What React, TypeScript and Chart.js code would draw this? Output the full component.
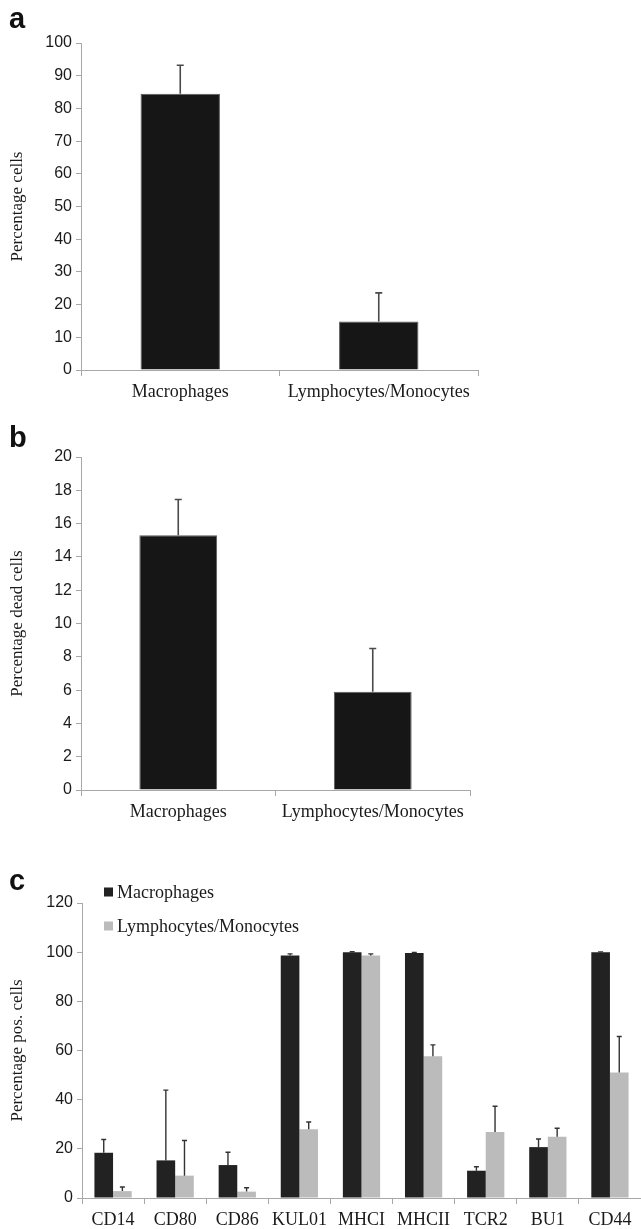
import React, { useEffect, useRef } from "react";
import { Chart, registerables } from "chart.js";

Chart.register(...registerables);

// ---------- data ----------
const cellTypes = ["Macrophages", "Lymphocytes/Monocytes"];
const aValues = [84.5, 14.8];
const aErrTop = [93.2, 23.6];
const bValues = [15.3, 5.9];
const bErrTop = [17.45, 8.5];

const markers = ["CD14", "CD80", "CD86", "KUL01", "MHCI", "MHCII", "TCR2", "BU1", "CD44"];
const macValues = [18.4, 15.3, 13.4, 98.6, 100, 99.7, 11.1, 20.7, 100];
const macErrTop = [23.8, 43.9, 18.6, 99.3, 100.2, 99.9, 12.7, 24.0, 100.1];
const lymValues = [2.8, 9.1, 2.6, 28.0, 98.6, 57.7, 26.8, 24.9, 51.1];
const lymErrTop = [4.5, 23.4, 4.2, 30.9, 99.3, 62.3, 37.3, 28.4, 65.7];

const seriesNames = ["Macrophages", "Lymphocytes/Monocytes"];

// ---------- styling ----------
const SANS = '"Liberation Sans", Arial, sans-serif';
const SERIF = '"Liberation Serif", "Times New Roman", serif';
const TEXT = "#1a1a1a";
const AXIS = "#a8a8a8";

const errorBarPlugin = {
  id: "errorBars",
  afterDatasetsDraw(chart: any) {
    const ctx = chart.ctx;
    const yScale = chart.scales.y;
    chart.data.datasets.forEach((ds: any, di: number) => {
      const tops = ds.errorTop;
      if (!tops) return;
      const meta = chart.getDatasetMeta(di);
      ctx.save();
      ctx.strokeStyle = ds.errorColor || "#444";
      ctx.lineWidth = ds.errorWidth || 1.5;
      meta.data.forEach((bar: any, i: number) => {
        const x = bar.x;
        const yb = bar.y;
        const yt = yScale.getPixelForValue(tops[i]);
        const cap = ds.errorCap || 3;
        ctx.beginPath();
        ctx.moveTo(x, yb);
        ctx.lineTo(x, yt);
        ctx.moveTo(x - cap, yt);
        ctx.lineTo(x + cap, yt);
        ctx.stroke();
      });
      ctx.restore();
    });
  },
};

const insetLegendPlugin = {
  id: "insetLegend",
  afterDraw(chart: any) {
    const { ctx, chartArea } = chart;
    const rowOffsets = [-11, 23];
    ctx.save();
    ctx.font = `18px ${SERIF}`;
    ctx.textBaseline = "middle";
    ctx.textAlign = "left";
    chart.data.datasets.forEach((ds: any, i: number) => {
      const x = chartArea.left + 22;
      const yc = chartArea.top + rowOffsets[i];
      ctx.fillStyle = ds.backgroundColor;
      ctx.fillRect(x, yc - 4.5, 9, 9);
      ctx.fillStyle = TEXT;
      ctx.fillText(ds.label, x + 13, yc + 1);
    });
    ctx.restore();
  },
};

function yAxis(max: number, step: number, title: string, width: number) {
  return {
    min: 0,
    max,
    ticks: {
      stepSize: step,
      color: TEXT,
      font: { family: SANS, size: 16 },
      padding: 4,
    },
    grid: { drawOnChartArea: false, drawTicks: true, tickLength: 5, color: AXIS },
    border: { color: AXIS, width: 1 },
    title: {
      display: true,
      text: title,
      color: TEXT,
      font: { family: SERIF, size: 17 },
      padding: { top: 7, bottom: 0 },
    },
    afterFit(scale: any) {
      scale.width = width;
    },
  };
}

function xAxis(height: number) {
  return {
    ticks: {
      color: TEXT,
      font: { family: SERIF, size: 18 },
      padding: 5,
      autoSkip: false,
      maxRotation: 0,
      minRotation: 0,
    },
    grid: { drawOnChartArea: false, drawTicks: true, tickLength: 6, color: AXIS, offset: true },
    border: { color: AXIS, width: 1 },
    afterFit(scale: any) {
      scale.height = height;
    },
  };
}

function singleConfig(values: number[], errTop: number[], max: number, step: number, title: string, padTop: number, padRight: number, xHeight: number) {
  return {
    type: "bar",
    data: {
      labels: cellTypes,
      datasets: [
        {
          label: "cells",
          data: values,
          backgroundColor: "#161616",
          borderColor: "#5a5a5a",
          borderWidth: 1,
          barPercentage: 0.4,
          categoryPercentage: 1,
          errorTop: errTop,
          errorCap: 3.5,
          errorColor: "#4a4a4a",
          errorWidth: 1.6,
        },
      ],
    },
    options: {
      responsive: false,
      maintainAspectRatio: false,
      animation: false,
      layout: { padding: { top: padTop, right: padRight, left: 0, bottom: 0 } },
      plugins: { legend: { display: false }, tooltip: { enabled: false } },
      scales: { x: xAxis(xHeight), y: yAxis(max, step, title, 81) },
    },
    plugins: [errorBarPlugin],
  };
}

function markerConfig() {
  return {
    type: "bar",
    data: {
      labels: markers,
      datasets: [
        {
          label: seriesNames[0],
          data: macValues,
          backgroundColor: "#222222",
          borderWidth: 0,
          barPercentage: 1,
          categoryPercentage: 0.6,
          errorTop: macErrTop,
          errorCap: 2.5,
          errorColor: "#333",
          errorWidth: 1.4,
        },
        {
          label: seriesNames[1],
          data: lymValues,
          backgroundColor: "#bbbbbb",
          borderWidth: 0,
          barPercentage: 1,
          categoryPercentage: 0.6,
          errorTop: lymErrTop,
          errorCap: 2.5,
          errorColor: "#333",
          errorWidth: 1.4,
        },
      ],
    },
    options: {
      responsive: false,
      maintainAspectRatio: false,
      animation: false,
      layout: { padding: { top: 63, right: 0, left: 0, bottom: 0 } },
      plugins: { legend: { display: false }, tooltip: { enabled: false } },
      scales: { x: xAxis(31), y: yAxis(120, 20, "Percentage pos. cells", 82) },
    },
    plugins: [errorBarPlugin, insetLegendPlugin],
  };
}

function ChartCanvas({ top, height, build }: { top: number; height: number; build: () => any }) {
  const ref = useRef<HTMLCanvasElement | null>(null);
  useEffect(() => {
    if (!ref.current) return;
    const chart = new Chart(ref.current, build());
    return () => chart.destroy();
  }, []);
  return (
    <canvas
      ref={ref}
      width={641}
      height={height}
      style={{ position: "absolute", left: 0, top, width: 641, height, display: "block" }}
    />
  );
}

function PanelLabel({ text, top }: { text: string; top: number }) {
  return (
    <div
      style={{
        position: "absolute",
        left: 9,
        top,
        fontFamily: SANS,
        fontWeight: "bold",
        fontSize: 29,
        lineHeight: "29px",
        color: "#111",
      }}
    >
      {text}
    </div>
  );
}

export default function App() {
  return (
    <div style={{ position: "absolute", left: 0, top: 0, width: 641, height: 1229, background: "#fff", overflow: "hidden" }}>
      <ChartCanvas top={0} height={415} build={() => singleConfig(aValues, aErrTop, 100, 10, "Percentage cells", 43, 163, 45)} />
      <ChartCanvas top={420} height={415} build={() => singleConfig(bValues, bErrTop, 20, 2, "Percentage dead cells", 37, 171, 45)} />
      <ChartCanvas top={840} height={389} build={markerConfig} />
      <PanelLabel text="a" top={4} />
      <PanelLabel text="b" top={423} />
      <PanelLabel text="c" top={866} />
    </div>
  );
}
